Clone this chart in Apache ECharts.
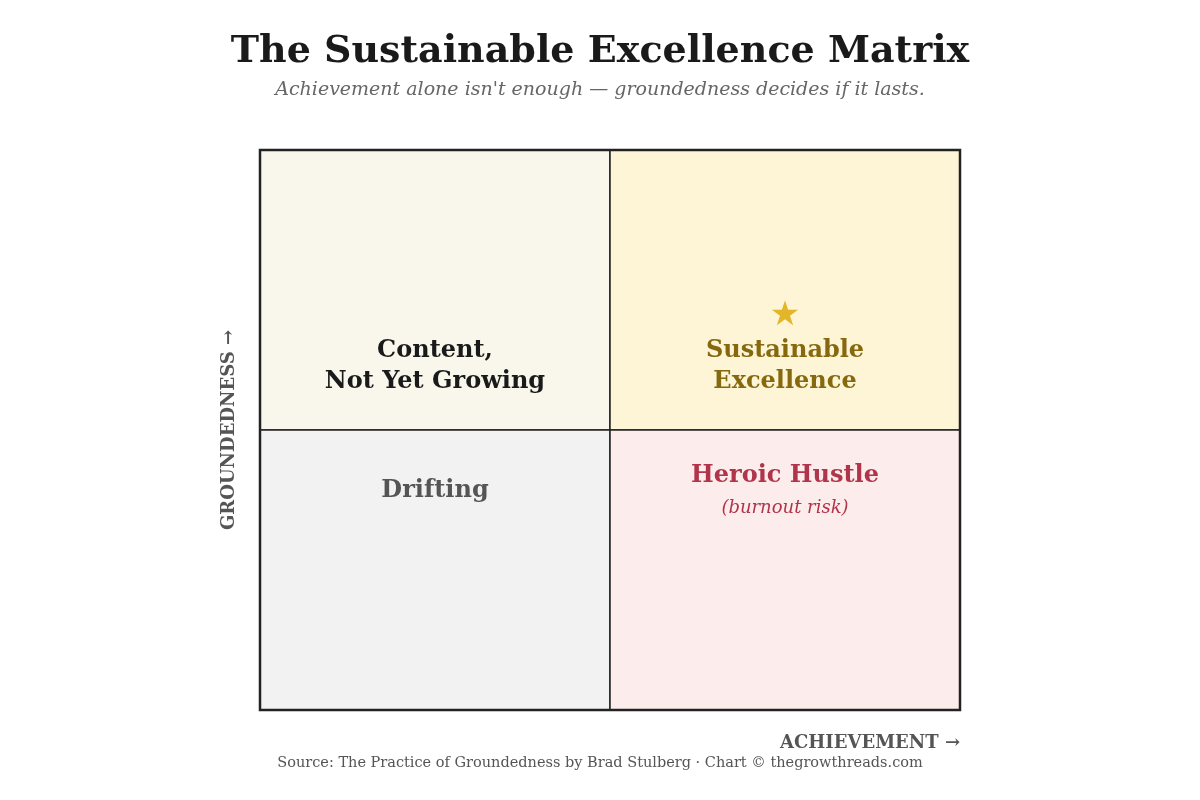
<!DOCTYPE html>
<html><head><meta charset="utf-8">
<script src="https://cdn.jsdelivr.net/npm/echarts@6/dist/echarts.min.js"></script>
<style>html,body{margin:0;background:#fff}#c{width:1200px;height:800px}</style>
</head><body><div id="c"></div>
<script>
const quadrantNames = ['Content,\nNot Yet Growing', 'Sustainable\nExcellence', 'Drifting', 'Heroic Hustle'];
const quadrantX = [[0,1],[1,2],[0,1],[1,2]];
const quadrantY = [[1,2],[1,2],[0,1],[0,1]];
const labelAnchor = [[0.5,1.229],[1.5,1.229],[0.5,0.782],[1.5,0.836]];
const fills = ['#f9f7ec','#fdf5d6','#f2f2f2','#fcecec'];
const textColors = ['#1a1a1a','#86680f','#555555','#b0354b'];
const starPos = [1.5,1.407];
const subNote = {text:'(burnout risk)', pos:[1.5,0.721]};
const F = 'DejaVu Serif, Georgia, serif';
const chart = echarts.init(document.getElementById('c'));
chart.setOption({
  title:{text:'The Sustainable Excellence Matrix',subtext:"Achievement alone isn't enough — groundedness decides if it lasts.",
    left:'center',top:28,itemGap:10,
    textStyle:{fontFamily:F,fontSize:38,fontWeight:'bold',color:'#1a1a1a'},
    subtextStyle:{fontFamily:F,fontSize:19,fontStyle:'italic',color:'#666'}},
  grid:{left:260,right:240,top:150,bottom:90},
  xAxis:{type:'value',min:0,max:2,interval:1,name:'ACHIEVEMENT →',nameLocation:'end',nameGap:0,
    nameTextStyle:{fontFamily:F,fontSize:18,fontWeight:'bold',color:'#555',align:'right',verticalAlign:'top',padding:[24,0,0,0]},
    axisLine:{show:false},axisTick:{show:false},axisLabel:{show:false},splitLine:{show:false}},
  yAxis:{type:'value',min:0,max:2,interval:1,name:'GROUNDEDNESS →',nameLocation:'middle',nameGap:22,
    nameTextStyle:{fontFamily:F,fontSize:18,fontWeight:'bold',color:'#555'},
    axisLine:{show:false},axisTick:{show:false},axisLabel:{show:false},splitLine:{show:false}},
  graphic:[{type:'text',left:'center',top:756,style:{text:'Source: The Practice of Groundedness by Brad Stulberg · Chart © thegrowthreads.com',font:'14.5px '+F,fill:'#555'}}],
  series:[{
    type:'custom',
    data:quadrantNames.map((n,i)=>[i]),
    renderItem:(params,api)=>{
      const i=api.value(0);
      const p0=api.coord([quadrantX[i][0],quadrantY[i][1]]);
      const p1=api.coord([quadrantX[i][1],quadrantY[i][0]]);
      const a=api.coord(labelAnchor[i]);
      const ch=[{type:'rect',shape:{x:p0[0],y:p0[1],width:p1[0]-p0[0],height:p1[1]-p0[1]},style:{fill:fills[i],stroke:'#222',lineWidth:1.5}},
        {type:'text',x:a[0],y:a[1],style:{text:quadrantNames[i],font:'bold 24px '+F,fill:textColors[i],align:'center',verticalAlign:'middle',lineHeight:31}}];
      if(i===1){const s=api.coord(starPos);ch.push({type:'text',x:s[0],y:s[1],style:{text:'★',font:'34px DejaVu Sans',fill:'#e3b528',align:'center',verticalAlign:'middle'}});}
      if(i===3){const s=api.coord(subNote.pos);ch.push({type:'text',x:s[0],y:s[1],style:{text:subNote.text,font:'italic 18px '+F,fill:textColors[3],align:'center',verticalAlign:'middle'}});}
      return {type:'group',children:ch};
    }
  },{
    type:'custom',data:[[0]],z:5,
    renderItem:(params,api)=>{const a=api.coord([0,2]),b=api.coord([2,0]);
      return {type:'rect',shape:{x:a[0],y:a[1],width:b[0]-a[0],height:b[1]-a[1]},style:{fill:'none',stroke:'#222',lineWidth:2.5}};}
  }]
});
</script></body></html>
